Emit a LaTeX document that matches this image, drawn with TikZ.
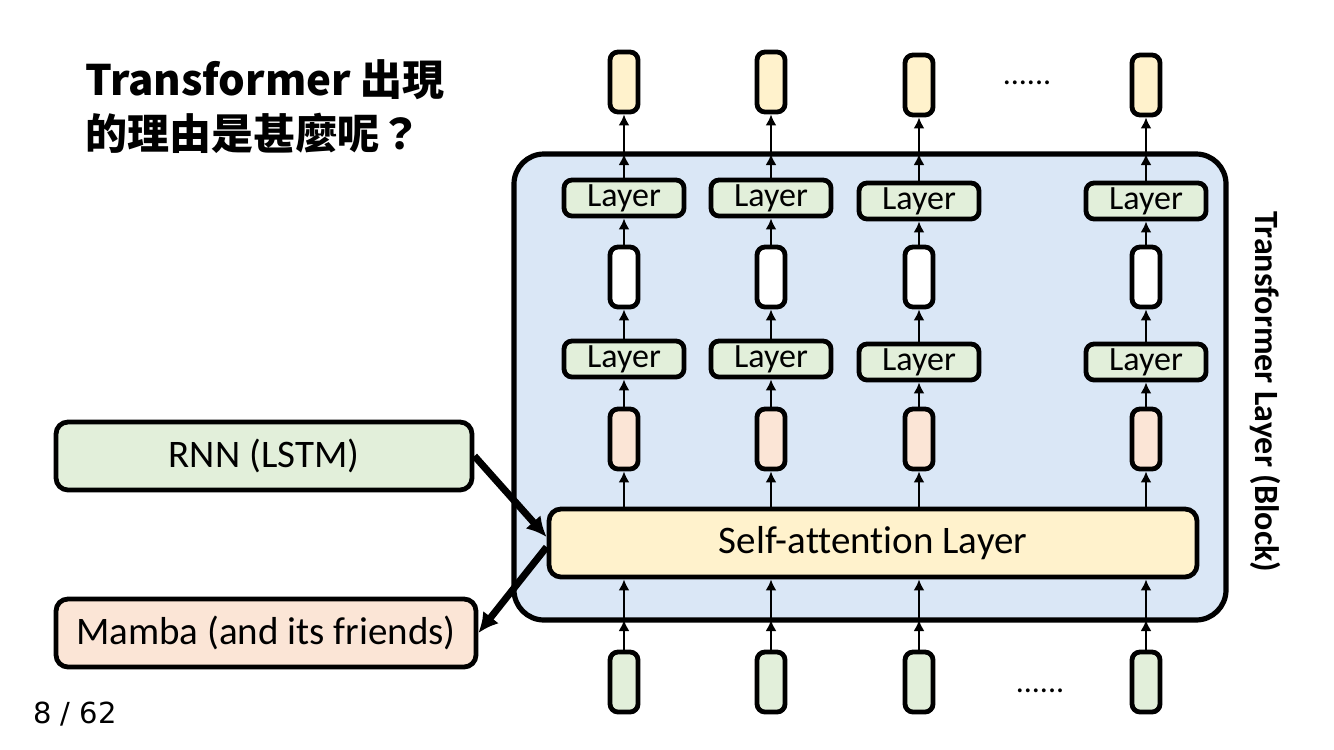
\documentclass[tikz,border=0pt]{standalone}
\usepackage{fontspec}
\setmainfont{Carlito}[Ligatures=NoCommon]
\newfontfamily\cjk{Noto Sans CJK TC}
\newfontfamily\pagefont{DejaVu Sans}
\usetikzlibrary{arrows.meta}
\definecolor{blockblue}{HTML}{DAE7F6}
\definecolor{lgreen}{HTML}{E2EFDA}
\definecolor{lyellow}{HTML}{FFF2CC}
\definecolor{lpink}{HTML}{FBE5D6}

\begin{document}
\begin{tikzpicture}[x=0.5pt,y=-0.5pt,>={Latex[length=5.5pt,width=5.5pt]},
    box/.style={draw,line width=2.4pt,rounded corners=4pt,inner sep=0pt},
    vec/.style={box,minimum width=14pt,minimum height=30pt},
    layerbox/.style={box,fill=lgreen,minimum width=60pt,minimum height=18pt,font=\fontsize{17}{17}\selectfont},
    bigbox/.style={box,rounded corners=6pt,minimum height=34pt,font=\fontsize{19.5}{19.5}\selectfont},
    flow/.style={->,line width=1.4pt},
    jump/.style={->,line width=3.5pt,>={Latex[length=10pt,width=10pt]}}]
      \useasboundingbox (0,0) rectangle (1334,750);
      \node[anchor=north west,align=left,font=\cjk\bfseries\fontsize{21}{27}\selectfont] (title) at (78,53) {Transformer 出現\\的理由是甚麼呢？};
      \draw[line width=2.6pt,fill=blockblue,rounded corners=15pt] (514,154) rectangle (1226,620);
      \node[rotate=-90,font=\bfseries\fontsize{17}{17}\selectfont] (blocklabel) at (1265,392) {Transformer Layer (Block)};
      \node[bigbox,fill=lyellow,minimum width=324pt] (sa) at (873,543) {Self-attention Layer};
      \node[bigbox,fill=lgreen,minimum width=208pt] (rnn) at (264,456) {RNN (LSTM)};
      \node[bigbox,fill=lpink,minimum width=210pt] (mamba) at (266,633) {Mamba (and its friends)};
      \draw[jump] (rnn.east) -- ([yshift=3pt]sa.west);
      \draw[jump] ([yshift=-2pt]sa.west) -- (mamba.east);
      \foreach \x/\d [count=\i] in {624/0,771/0,919/3,1146/3} {
        \node[vec,fill=lyellow] (out\i) at (\x,82+\d) {};
        \node[layerbox] (up\i) at (\x,198+\d) {Layer};
        \node[vec,fill=white] (hid\i) at (\x,277) {};
        \node[layerbox] (low\i) at (\x,359+\d) {Layer};
        \node[vec,fill=lpink] (pk\i) at (\x,439) {};
        \node[vec,fill=lgreen] (in\i) at (\x,682) {};
        \coordinate (top\i) at (\x,154);
        \coordinate (bot\i) at (\x,620);
        \draw[flow] (in\i) -- (bot\i);
        \draw[flow] (bot\i) -- (sa.south -| in\i);
        \draw[flow] (sa.north -| pk\i) -- (pk\i);
        \draw[flow] (pk\i) -- (low\i);
        \draw[flow] (low\i) -- (hid\i);
        \draw[flow] (hid\i) -- (up\i);
        \draw[flow] (up\i) -- (top\i);
        \draw[flow] (top\i) -- (out\i);
      }
      \node[font=\fontsize{16}{16}\selectfont] (dotsup) at (1027,83) {......};
      \node[font=\fontsize{16}{16}\selectfont] (dotsdown) at (1040,691) {......};
      \node[anchor=west,font=\pagefont\fontsize{14.5}{14.5}\selectfont] (page) at (26,714) {8 / 62};
    \end{tikzpicture}
\end{document}
